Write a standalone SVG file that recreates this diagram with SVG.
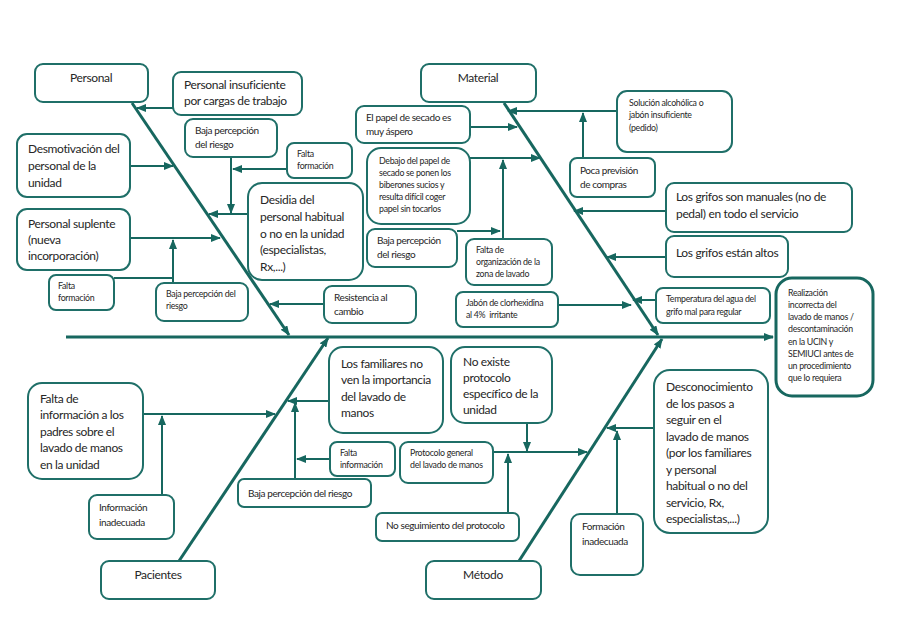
<svg xmlns="http://www.w3.org/2000/svg" width="908" height="642" viewBox="0 0 908 642">
<defs>
<marker id="a" markerUnits="userSpaceOnUse" markerWidth="10" markerHeight="8" refX="9" refY="4" orient="auto">
<path d="M0,0 L10,4 L0,8 z" fill="#17675f"/>
</marker>
<style>
.bx{fill:#fff;stroke:#1f6f68;stroke-width:2}
.ef{fill:#fff;stroke:#17675f;stroke-width:3}
.t{font-family:Lato,"Liberation Sans",sans-serif;fill:#262626}
.l{font-size:12px;letter-spacing:-0.35px}
.m{font-size:10px;letter-spacing:-0.4px}
.s{font-size:8.8px;letter-spacing:-0.3px}
.c{text-anchor:middle}
.bone{stroke:#17675f;stroke-width:3;fill:none}
.br{stroke:#17675f;stroke-width:2;fill:none}
</style>
</defs>
<rect width="908" height="642" fill="#fff"/>

<g id="connectors">
<line class="bone" x1="66" y1="337" x2="773" y2="337" marker-end="url(#a)"/>
<line class="bone" x1="132" y1="103" x2="289" y2="335" marker-end="url(#a)"/>
<line class="bone" x1="504" y1="103" x2="658" y2="335" marker-end="url(#a)"/>
<line class="bone" x1="179" y1="561" x2="328" y2="338" marker-end="url(#a)"/>
<line class="bone" x1="519" y1="561" x2="662" y2="339" marker-end="url(#a)"/>
<line class="br" x1="173" y1="108" x2="137" y2="108" marker-end="url(#a)"/>
<line class="br" x1="130" y1="166" x2="173" y2="166" marker-end="url(#a)"/>
<line class="br" x1="248" y1="214" x2="209" y2="214" marker-end="url(#a)"/>
<line class="br" x1="231" y1="157" x2="231" y2="213" marker-end="url(#a)"/>
<line class="br" x1="287" y1="169" x2="233" y2="169" marker-end="url(#a)"/>
<line class="br" x1="130" y1="238" x2="220" y2="238" marker-end="url(#a)"/>
<line class="br" x1="173" y1="283" x2="173" y2="240" marker-end="url(#a)"/>
<polyline class="br" points="114,278 173,278"/>
<line class="br" x1="324" y1="304" x2="270" y2="304" marker-end="url(#a)"/>
<line class="br" x1="467" y1="127" x2="517" y2="127" marker-end="url(#a)"/>
<line class="br" x1="470" y1="158" x2="540" y2="158" marker-end="url(#a)"/>
<line class="br" x1="503" y1="239" x2="503" y2="160" marker-end="url(#a)"/>
<line class="br" x1="457" y1="231" x2="500" y2="231" marker-end="url(#a)"/>
<line class="br" x1="558" y1="305" x2="631" y2="305" marker-end="url(#a)"/>
<line class="br" x1="617" y1="111" x2="508" y2="111" marker-end="url(#a)"/>
<line class="br" x1="583" y1="158" x2="583" y2="113" marker-end="url(#a)"/>
<line class="br" x1="666" y1="211" x2="574" y2="211" marker-end="url(#a)"/>
<line class="br" x1="666" y1="257" x2="607" y2="257" marker-end="url(#a)"/>
<line class="br" x1="656" y1="300" x2="633" y2="300" marker-end="url(#a)"/>
<line class="br" x1="143" y1="414" x2="275" y2="414" marker-end="url(#a)"/>
<line class="br" x1="162" y1="495" x2="162" y2="416" marker-end="url(#a)"/>
<line class="br" x1="335" y1="401" x2="288" y2="401" marker-end="url(#a)"/>
<line class="br" x1="295" y1="479" x2="295" y2="403" marker-end="url(#a)"/>
<line class="br" x1="330" y1="459" x2="297" y2="459" marker-end="url(#a)"/>
<line class="br" x1="493" y1="452" x2="587" y2="452" marker-end="url(#a)"/>
<line class="br" x1="527" y1="423" x2="527" y2="451" marker-end="url(#a)"/>
<line class="br" x1="508" y1="513" x2="508" y2="454" marker-end="url(#a)"/>
<line class="br" x1="654" y1="428" x2="607" y2="428" marker-end="url(#a)"/>
<line class="br" x1="617" y1="514" x2="617" y2="431" marker-end="url(#a)"/>
</g>

<g id="effect">
<rect class="ef" x="776" y="278" width="97" height="118" rx="16"/>
<text class="t s"><tspan x="788" y="296">Realización</tspan><tspan x="788" y="308">incorrecta del</tspan><tspan x="788" y="320">lavado de manos /</tspan><tspan x="788" y="332">descontaminación</tspan><tspan x="788" y="345">en la UCIN y</tspan><tspan x="788" y="357">SEMIUCI antes de</tspan><tspan x="788" y="369">un procedimiento</tspan><tspan x="788" y="381">que lo requiera</tspan></text>
</g>

<g id="cat-personal">
<rect class="bx" x="35" y="64" width="113" height="38" rx="8"/>
<text class="t l c" x="91" y="82">Personal</text>
</g>
<g id="cat-material">
<rect class="bx" x="421" y="64" width="115" height="38" rx="8"/>
<text class="t l c" x="478" y="82">Material</text>
</g>
<g id="cat-pacientes">
<rect class="bx" x="101" y="561" width="114" height="38" rx="8"/>
<text class="t l c" x="158" y="579">Pacientes</text>
</g>
<g id="cat-metodo">
<rect class="bx" x="426" y="561" width="115" height="38" rx="8"/>
<text class="t l c" x="483" y="579">Método</text>
</g>

<g id="p-insuficiente">
<rect class="bx" x="173" y="72" width="129" height="43" rx="8"/>
<text class="t l"><tspan x="184" y="89">Personal insuficiente</tspan><tspan x="184" y="105">por cargas de trabajo</tspan></text>
</g>
<g id="p-baja1">
<rect class="bx" x="185" y="119" width="92" height="38" rx="8"/>
<text class="t m"><tspan x="195" y="134">Baja percepción</tspan><tspan x="195" y="148">del riesgo</tspan></text>
</g>
<g id="p-falta1">
<rect class="bx" x="287" y="143" width="65" height="35" rx="7"/>
<text class="t s"><tspan x="297" y="157">Falta</tspan><tspan x="297" y="169">formación</tspan></text>
</g>
<g id="p-desmotivacion">
<rect class="bx" x="17" y="134" width="113" height="63" rx="10"/>
<text class="t l"><tspan x="28" y="153">Desmotivación del</tspan><tspan x="28" y="170">personal de la</tspan><tspan x="28" y="187">unidad</tspan></text>
</g>
<g id="p-desidia">
<rect class="bx" x="248" y="183" width="115" height="97" rx="14"/>
<text class="t l"><tspan x="260" y="204">Desidia del</tspan><tspan x="260" y="221">personal habitual</tspan><tspan x="260" y="238">o no en la unidad</tspan><tspan x="260" y="254">(especialistas,</tspan><tspan x="260" y="271">Rx,...)</tspan></text>
</g>
<g id="p-suplente">
<rect class="bx" x="17" y="209" width="113" height="61" rx="10"/>
<text class="t l"><tspan x="28" y="228">Personal suplente</tspan><tspan x="28" y="244">(nueva</tspan><tspan x="28" y="260">incorporación)</tspan></text>
</g>
<g id="p-falta2">
<rect class="bx" x="49" y="275" width="65" height="35" rx="7"/>
<text class="t s"><tspan x="58" y="289">Falta</tspan><tspan x="58" y="301">formación</tspan></text>
</g>
<g id="p-baja2">
<rect class="bx" x="156" y="283" width="92" height="38" rx="8"/>
<text class="t s"><tspan x="166" y="297">Baja percepción del</tspan><tspan x="166" y="309">riesgo</tspan></text>
</g>
<g id="p-resistencia">
<rect class="bx" x="324" y="286" width="92" height="37" rx="8"/>
<text class="t m"><tspan x="334" y="301">Resistencia al</tspan><tspan x="334" y="315">cambio</tspan></text>
</g>

<g id="m-aspero">
<rect class="bx" x="356" y="106" width="114" height="37" rx="8"/>
<text class="t m"><tspan x="366" y="121">El papel de secado es</tspan><tspan x="366" y="135">muy áspero</tspan></text>
</g>
<g id="m-debajo">
<rect class="bx" x="367" y="148" width="103" height="76" rx="14"/>
<text class="t s"><tspan x="379" y="164">Debajo del papel de</tspan><tspan x="379" y="176">secado se ponen los</tspan><tspan x="379" y="188">biberones sucios y</tspan><tspan x="379" y="200">resulta difícil coger</tspan><tspan x="379" y="212">papel sin tocarlos</tspan></text>
</g>
<g id="m-baja">
<rect class="bx" x="367" y="229" width="90" height="38" rx="8"/>
<text class="t m"><tspan x="377" y="244">Baja percepción</tspan><tspan x="377" y="258">del riesgo</tspan></text>
</g>
<g id="m-organizacion">
<rect class="bx" x="466" y="239" width="86" height="46" rx="8"/>
<text class="t s"><tspan x="476" y="253">Falta de</tspan><tspan x="476" y="265">organización de la</tspan><tspan x="476" y="277">zona de lavado</tspan></text>
</g>
<g id="m-jabon">
<rect class="bx" x="456" y="292" width="102" height="35" rx="7"/>
<text class="t s"><tspan x="466" y="306">Jabón de clorhexidina</tspan><tspan x="466" y="318" xml:space="preserve">al 4%  irritante</tspan></text>
</g>
<g id="m-solucion">
<rect class="bx" x="617" y="91" width="115" height="61" rx="10"/>
<text class="t s"><tspan x="629" y="106">Solución alcohólica o</tspan><tspan x="629" y="118">jabón insuficiente</tspan><tspan x="629" y="131">(pedido)</tspan></text>
</g>
<g id="m-prevision">
<rect class="bx" x="570" y="158" width="85" height="39" rx="7"/>
<text class="t m"><tspan x="580" y="174">Poca previsión</tspan><tspan x="580" y="188">de compras</tspan></text>
</g>
<g id="m-manuales">
<rect class="bx" x="666" y="183" width="186" height="49" rx="8"/>
<text class="t l"><tspan x="676" y="201">Los grifos son manuales (no de</tspan><tspan x="676" y="218">pedal) en todo el servicio</tspan></text>
</g>
<g id="m-altos">
<rect class="bx" x="666" y="236" width="122" height="41" rx="8"/>
<text class="t l"><tspan x="676" y="257">Los grifos están altos</tspan></text>
</g>
<g id="m-temperatura">
<rect class="bx" x="656" y="288" width="114" height="35" rx="7"/>
<text class="t s"><tspan x="666" y="302">Temperatura del agua del</tspan><tspan x="666" y="315">grifo mal para regular</tspan></text>
</g>

<g id="pa-falta-info">
<rect class="bx" x="28" y="383" width="115" height="96" rx="14"/>
<text class="t l"><tspan x="40" y="403">Falta de</tspan><tspan x="40" y="419">información a los</tspan><tspan x="40" y="436">padres sobre el</tspan><tspan x="40" y="452">lavado de manos</tspan><tspan x="40" y="469">en la unidad</tspan></text>
</g>
<g id="pa-inadecuada">
<rect class="bx" x="89" y="495" width="85" height="44" rx="8"/>
<text class="t m"><tspan x="99" y="511">Información</tspan><tspan x="99" y="526">inadecuada</tspan></text>
</g>
<g id="pa-familiares">
<rect class="bx" x="329" y="347" width="114" height="86" rx="14"/>
<text class="t l"><tspan x="341" y="368">Los familiares no</tspan><tspan x="341" y="384">ven la importancia</tspan><tspan x="341" y="401">del lavado de</tspan><tspan x="341" y="417">manos</tspan></text>
</g>
<g id="pa-falta">
<rect class="bx" x="330" y="442" width="65" height="34" rx="7"/>
<text class="t s"><tspan x="340" y="456">Falta</tspan><tspan x="340" y="468">información</tspan></text>
</g>
<g id="pa-baja">
<rect class="bx" x="238" y="479" width="133" height="28" rx="6"/>
<text class="t m"><tspan x="248" y="497">Baja percepción del riesgo</tspan></text>
</g>

<g id="me-noexiste">
<rect class="bx" x="451" y="347" width="101" height="76" rx="14"/>
<text class="t l"><tspan x="463" y="366">No existe</tspan><tspan x="463" y="382">protocolo</tspan><tspan x="463" y="398">específico de la</tspan><tspan x="463" y="414">unidad</tspan></text>
</g>
<g id="me-protocolo">
<rect class="bx" x="400" y="442" width="93" height="41" rx="8"/>
<text class="t s"><tspan x="410" y="456">Protocolo general</tspan><tspan x="410" y="468">del lavado de manos</tspan></text>
</g>
<g id="me-noseguimiento">
<rect class="bx" x="376" y="513" width="143" height="28" rx="6"/>
<text class="t m"><tspan x="386" y="529">No seguimiento del protocolo</tspan></text>
</g>
<g id="me-desconocimiento">
<rect class="bx" x="654" y="370" width="114" height="163" rx="16"/>
<text class="t l"><tspan x="666" y="391">Desconocimiento</tspan><tspan x="666" y="408">de los pasos a</tspan><tspan x="666" y="424">seguir en el</tspan><tspan x="666" y="441">lavado de manos</tspan><tspan x="666" y="457">(por los familiares</tspan><tspan x="666" y="474">y personal</tspan><tspan x="666" y="490">habitual o no del</tspan><tspan x="666" y="507">servicio, Rx,</tspan><tspan x="666" y="523">especialistas,...)</tspan></text>
</g>
<g id="me-formacion">
<rect class="bx" x="571" y="514" width="72" height="61" rx="9"/>
<text class="t m"><tspan x="582" y="530">Formación</tspan><tspan x="582" y="545">inadecuada</tspan></text>
</g>
</svg>
